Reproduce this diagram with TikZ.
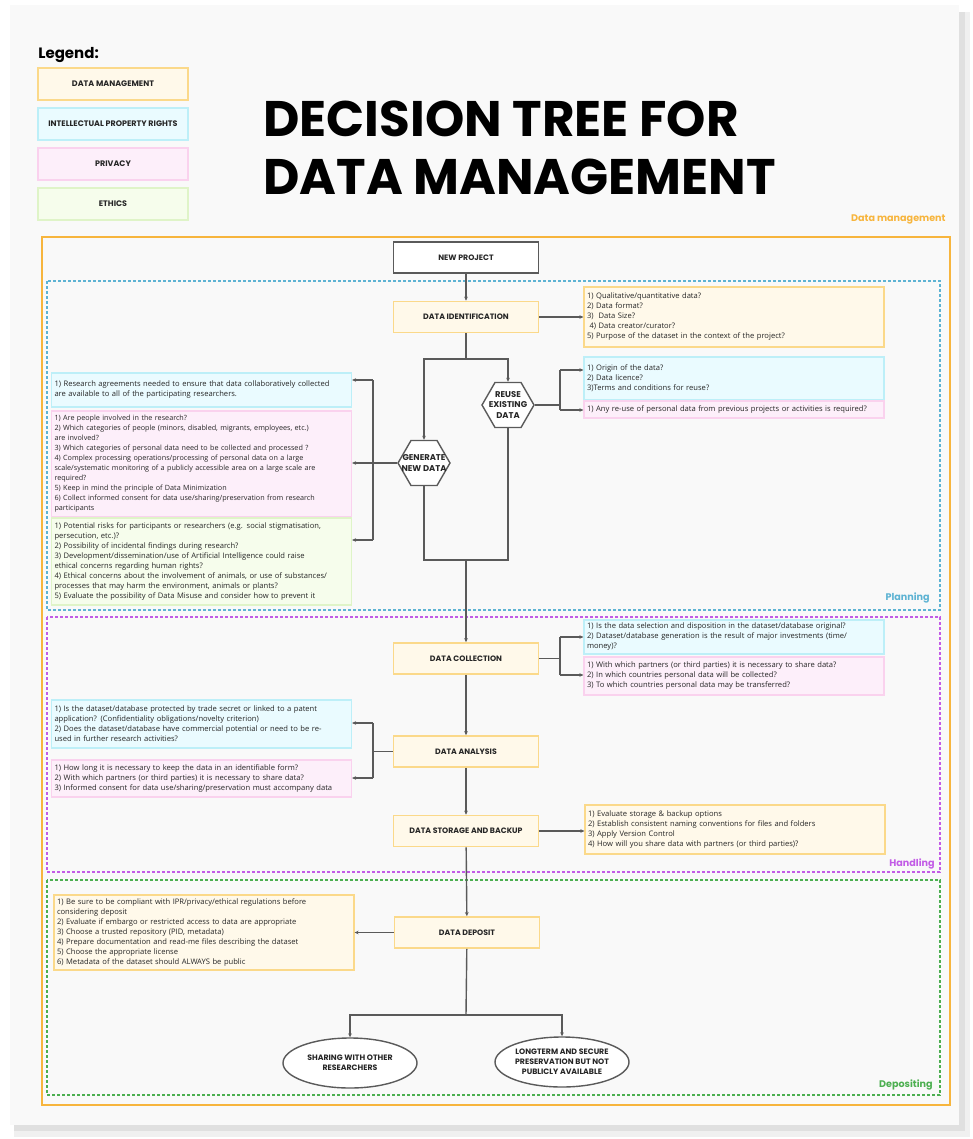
\documentclass[tikz,border=0pt]{standalone}
\usepackage{fontspec}
\setmainfont{Open Sans}
\newfontfamily\headfont{Poppins}
\usetikzlibrary{shapes.geometric,arrows.meta}

\definecolor{dmline}{HTML}{FBD98A}
\definecolor{dmfill}{HTML}{FFF9EA}
\definecolor{ipline}{HTML}{BDEFF8}
\definecolor{ipfill}{HTML}{EAFBFF}
\definecolor{prline}{HTML}{FAD2EE}
\definecolor{prfill}{HTML}{FDEFFA}
\definecolor{etline}{HTML}{DFF4C8}
\definecolor{etfill}{HTML}{F6FDEC}
\definecolor{frameorange}{HTML}{F7B53D}
\definecolor{planblue}{HTML}{5DB3D3}
\definecolor{handpurple}{HTML}{C25CE6}
\definecolor{depgreen}{HTML}{4CAF50}
\definecolor{linegray}{HTML}{5A5A5A}
\definecolor{page}{HTML}{F9F9F9}

\begin{document}
\begin{tikzpicture}[x=0.5pt, y=-0.5pt,
    stage/.style={draw=dmline, fill=dmfill, line width=0.8pt, minimum width=72.5pt,
      minimum height=15.5pt, inner sep=0pt, text=black!85,
      font=\headfont\fontsize{3.9}{5}\selectfont\bfseries},
    question/.style={line width=0.6pt, inner sep=1.5pt, align=left, text=black!85,
      font=\fontsize{3.8}{5}\selectfont, text width=147pt},
    dmq/.style={question, draw=dmline, fill=dmfill},
    ipq/.style={question, draw=ipline, fill=ipfill},
    prq/.style={question, draw=prline, fill=prfill},
    etq/.style={question, draw=etline, fill=etfill},
    legend/.style={line width=0.6pt, minimum width=75pt, minimum height=16pt, text=black!85,
      font=\headfont\fontsize{4}{5}\selectfont\bfseries},
    branch/.style={regular polygon, regular polygon sides=6, draw=linegray, fill=white,
      line width=0.7pt, minimum size=26pt, inner sep=0pt},
    hexlabel/.style={align=center, inner sep=0pt, text=black!85,
      font=\headfont\fontsize{4.2}{5.2}\selectfont\bfseries},
    outcome/.style={ellipse, draw=linegray, fill=white, line width=0.7pt, minimum width=67pt,
      minimum height=25pt, inner sep=0pt, align=center, text=black!85,
      font=\headfont\fontsize{3.9}{5}\selectfont\bfseries},
    phase/.style={line width=0.6pt, dash pattern=on 1.5pt off 1pt},
    tag/.style={inner sep=0pt, font=\headfont\fontsize{4.8}{6}\selectfont\bfseries},
    title/.style={inner sep=0pt, font=\headfont\fontsize{25}{29}\selectfont\bfseries},
    link/.style={draw=linegray, line width=0.7pt},
    arr/.style={link, -{Stealth[length=2pt, width=1.8pt]}}]

  \useasboundingbox (0,0) rectangle (973,1139);

  % page and its shadow
  \fill [white] (0,0) rectangle (973,1139);
  \fill [black!6] (14,12) rectangle (970,1137);
  \fill [black!12] (14,12) rectangle (965,1131);
  \fill [page] (10,5) rectangle (959,1125);

  % legend
  \node (leg) [anchor=west, inner sep=0pt, font=\headfont\fontsize{7.5}{9}\selectfont\bfseries]
    at (38,55) {Legend:};
  \node (legdm) [legend, draw=dmline, fill=dmfill] at (113,84) {DATA MANAGEMENT};
  \node (legip) [legend, draw=ipline, fill=ipfill] at (113,124) {INTELLECTUAL PROPERTY RIGHTS};
  \node (legpr) [legend, draw=prline, fill=prfill] at (113,164) {PRIVACY};
  \node (leget) [legend, draw=etline, fill=etfill] at (113,204) {ETHICS};

  % title
  \node (title1) [title, anchor=base west] at (263,137) {DECISION TREE FOR};
  \node (title2) [title, anchor=base west] at (263,195) {DATA MANAGEMENT};

  % frames of the phases
  \draw [frameorange, line width=0.9pt] (42,237) rectangle (950,1105);
  \draw [phase, planblue] (47,281) rectangle (940,610);
  \draw [phase, handpurple] (47,617) rectangle (940,872);
  \draw [phase, depgreen] (47,880) rectangle (940,1095);

  \node (ldm) [tag, text=frameorange, anchor=east] at (946,219) {Data management};
  \node (lplan) [tag, text=planblue, anchor=east] at (930,598) {Planning};
  \node (lhand) [tag, text=handpurple, anchor=east] at (935,864) {Handling};
  \node (ldep) [tag, text=depgreen, anchor=east] at (933,1085) {Depositing};

  % main stages
  \node (np) [stage, fill=white, draw=linegray] at (466,257.5) {NEW PROJECT};
  \node (di) [stage] at (466,317) {DATA IDENTIFICATION};
  \node (dc) [stage] at (466,658.5) {DATA COLLECTION};
  \node (da) [stage] at (466,751.5) {DATA ANALYSIS};
  \node (ds) [stage] at (466,831) {DATA STORAGE AND BACKUP};
  \node (dd) [stage] at (467,932.5) {DATA DEPOSIT};

  % branches
  \node (reuse) [branch, label={[hexlabel]center:REUSE\\EXISTING\\DATA}] at (508,405) {};
  \node (gen) [branch, label={[hexlabel]center:GENERATE\\NEW DATA}] at (424,463) {};

  % outcomes
  \node (share) [outcome] at (350,1063) {SHARING WITH OTHER\\RESEARCHERS};
  \node (keep) [outcome] at (562,1062) {LONGTERM AND SECURE\\PRESERVATION BUT NOT\\PUBLICLY AVAILABLE};

  % questions, right column
  \node (diq) [dmq, minimum height=30pt] at (734,317) {1) Qualitative/quantitative data?\\
    2) Data format?\\
    3)\ \ Data Size?\\
    \ 4) Data creator/curator?\\
    5) Purpose of the dataset in the context of the project?};
  \node (ruip) [ipq, minimum height=21.5pt] at (734,378.5) {1) Origin of the data?\\
    2) Data licence?\\
    3)Terms and conditions for reuse?};
  \node (rupr) [prq, minimum height=8.5pt] at (734,409.5)
    {1) Any re-use of personal data from previous projects or activities is required?};
  \node (dcip) [ipq, minimum height=17pt] at (734,637)
    {1) Is the data selection and disposition in the dataset/database original?\\
    2) Dataset/database generation is the result of major investments (time/\\
    money)?};
  \node (dcpr) [prq, minimum height=19pt] at (734,676)
    {1) With which partners (or third parties) it is necessary to share data?\\
    2) In which countries personal data will be collected?\\
    3) To which countries personal data may be transferred?};
  \node (dsq) [dmq, minimum height=24.5pt] at (735,829.5) {1) Evaluate storage \& backup options\\
    2) Establish consistent naming conventions for files and folders\\
    3) Apply Version Control\\
    4) How will you share data with partners (or third parties)?};

  % questions, left column
  \node (gip) [ipq, minimum height=17pt] at (201.5,390)
    {1) Research agreements needed to ensure that data collaboratively collected\\
    are available to all of the participating researchers.};
  \node (gpr) [prq, minimum height=53pt, font=\fontsize{3.6}{5}\selectfont] at (201.5,464)
    {1) Are people involved in the research?\\
    2) Which categories of people (minors, disabled, migrants, employees, etc.)\\
    are involved?\\
    3) Which categories of personal data need to be collected and processed ?\\
    4) Complex processing operations/processing of personal data on a large\\
    scale/systematic monitoring of a publicly accessible area on a large scale are\\
    required?\\
    5) Keep in mind the principle of Data Minimization\\
    6) Collect informed consent for data use/sharing/preservation from research\\
    participants};
  \node (get) [etq, minimum height=43.5pt] at (201.5,561.5)
    {1) Potential risks for participants or researchers (e.g. social stigmatisation,\\
    persecution, etc.)?\\
    2) Possibility of incidental findings during research?\\
    3) Development/dissemination/use of Artificial Intelligence could raise\\
    ethical concerns regarding human rights?\\
    4) Ethical concerns about the involvement of animals, or use of substances/\\
    processes that may harm the environment, animals or plants?\\
    5) Evaluate the possibility of Data Misuse and consider how to prevent it};
  \node (daip) [ipq, minimum height=24pt] at (201.5,724)
    {1) Is the dataset/database protected by trade secret or linked to a patent\\
    application? (Confidentiality obligations/novelty criterion)\\
    2) Does the dataset/database have commercial potential or need to be re-\\
    used in further research activities?};
  \node (dapr) [prq, minimum height=18.5pt] at (201.5,778.5)
    {1) How long it is necessary to keep the data in an identifiable form?\\
    2) With which partners (or third parties) it is necessary to share data?\\
    3) Informed consent for data use/sharing/preservation must accompany data};
  \node (ddq) [dmq, minimum height=37.5pt] at (204,932.5)
    {1) Be sure to be compliant with IPR/privacy/ethical regulations before\\
    considering deposit\\
    2) Evaluate if embargo or restricted access to data are appropriate\\
    3) Choose a trusted repository (PID, metadata)\\
    4) Prepare documentation and read-me files describing the dataset\\
    5) Choose the appropriate license\\
    6) Metadata of the dataset should ALWAYS be public};

  % spine of the tree
  \coordinate (fork) at (466,359);
  \coordinate (merge) at (466,560);
  \coordinate (split) at (466,1015);
  \draw [arr] (np) -- (di);
  \draw [link] (di) -- (fork);
  \draw [arr] (fork) -| (reuse);
  \draw [arr] (fork) -| (gen);
  \draw [link] (reuse) |- (merge);
  \draw [link] (gen) |- (merge);
  \draw [arr] (merge) -- (dc);
  \draw [arr] (dc) -- (da);
  \draw [arr] (da) -- (ds);
  \draw [arr] (ds) -- (dd);
  \draw [link] (dd) -- (split);
  \draw [arr] (split) -| (share);
  \draw [arr] (split) -| (keep);

  % brackets to the questions
  \coordinate (rtop) at (560,370);
  \coordinate (rbot) at (560,410);
  \coordinate (gtop) at (373,380);
  \coordinate (gmid) at (373,463);
  \coordinate (gbot) at (373,540);
  \coordinate (ctop) at (560,637);
  \coordinate (cbot) at (560,675);
  \coordinate (atop) at (373,723);
  \coordinate (abot) at (373,778);

  \draw [arr] (di) -- (diq);
  \draw [link] (rtop) -- (rbot);
  \draw [link] (reuse.east) -- (reuse.east -| rtop);
  \draw [arr] (rtop) -- (rtop -| ruip.west);
  \draw [arr] (rbot) -- (rbot -| rupr.west);

  \draw [link] (gtop) -- (gbot);
  \draw [link] (gen.west) -- (gen.west -| gtop);
  \draw [arr] (gtop) -- (gtop -| gip.east);
  \draw [arr] (gmid) -- (gmid -| gpr.east);
  \draw [arr] (gbot) -- (gbot -| get.east);

  \draw [link] (ctop) -- (cbot);
  \draw [link] (dc.east) -- (dc.east -| ctop);
  \draw [arr] (ctop) -- (ctop -| dcip.west);
  \draw [arr] (cbot) -- (cbot -| dcpr.west);

  \draw [link] (atop) -- (abot);
  \draw [link] (da.west) -- (da.west -| atop);
  \draw [arr] (atop) -- (atop -| daip.east);
  \draw [arr] (abot) -- (abot -| dapr.east);

  \draw [arr] (ds.east) -- (ds.east -| dsq.west);
  \draw [arr] (dd.west) -- (dd.west -| ddq.east);
\end{tikzpicture}
\end{document}
